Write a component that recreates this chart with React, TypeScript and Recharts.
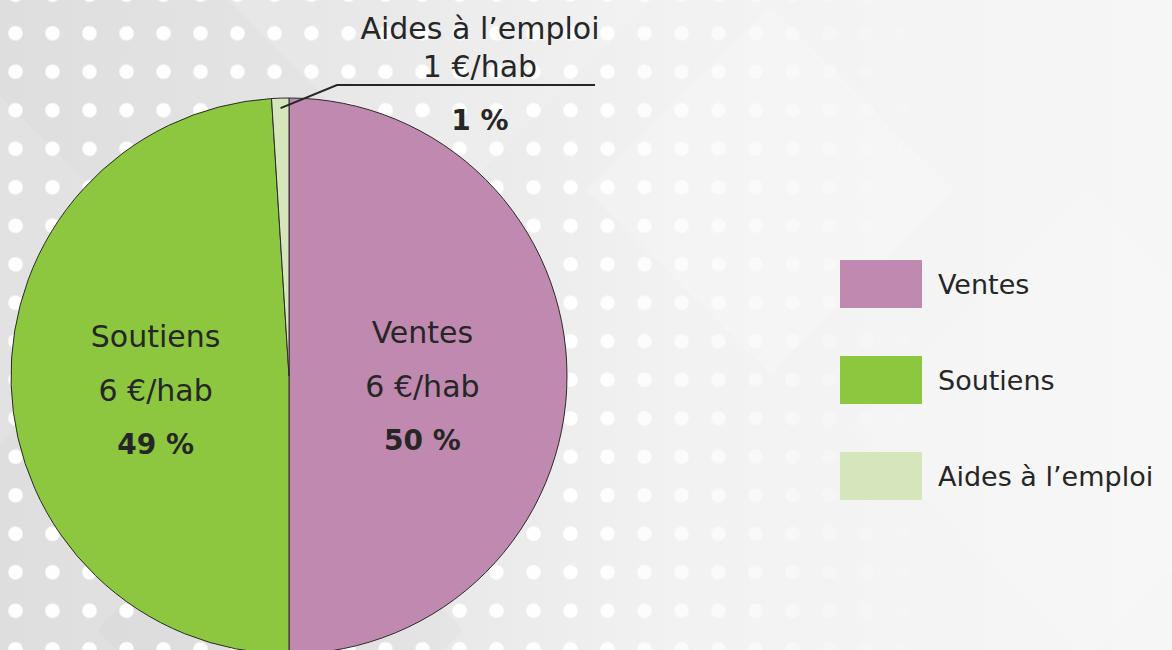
import { PieChart, Pie, Cell, Legend } from "recharts";

const categories = ["Ventes", "Soutiens", "Aides à l’emploi"];
const perInhabitant = [6, 6, 1];
const shares = [50, 49, 1];

const SLICE_COLORS = ["#BF89B0", "#8DC63F", "#D6E6BC"];
const TEXT = "#262626";
const FONT = "'DejaVu Sans', sans-serif";
const RAD = Math.PI / 180;

const data = categories.map((name, i) => ({
  name,
  perHab: perInhabitant[i],
  share: shares[i],
}));

// inside labels for the big slices, a leader + underline for the thin one
function SliceLabel(props: any) {
  const { cx, cy, midAngle, outerRadius, index } = props;
  const row = data[index];
  if (!row) return null;

  if (row.share < 5) {
    const sx = cx + (outerRadius - 10) * Math.cos(-midAngle * RAD);
    const sy = cy + (outerRadius - 10) * Math.sin(-midAngle * RAD);
    const top = cy - outerRadius;
    const ex = cx + 48;
    const ey = top - 13;
    const tx = cx + 191;
    return (
      <g fontFamily={FONT} fill={TEXT}>
        <polyline
          points={`${sx},${sy} ${ex},${ey} ${cx + 306},${ey}`}
          fill="none"
          stroke={TEXT}
          strokeWidth={2}
        />
        <text x={tx} y={top - 59} textAnchor="middle" fontSize={30}>
          {row.name}
        </text>
        <text x={tx} y={top - 21} textAnchor="middle" fontSize={30}>
          {row.perHab} €/hab
        </text>
        <text x={tx} y={top + 32} textAnchor="middle" fontSize={28} fontWeight="bold">
          {row.share} %
        </text>
      </g>
    );
  }

  const r = outerRadius * 0.48;
  const x = cx + r * Math.cos(-midAngle * RAD);
  const y = cy + r * Math.sin(-midAngle * RAD) + 10;
  return (
    <g fontFamily={FONT} fill={TEXT} textAnchor="middle">
      <text x={x} y={y - 54} dominantBaseline="central" fontSize={30}>
        {row.name}
      </text>
      <text x={x} y={y} dominantBaseline="central" fontSize={30}>
        {row.perHab} €/hab
      </text>
      <text x={x} y={y + 54} dominantBaseline="central" fontSize={28} fontWeight="bold">
        {row.share} %
      </text>
    </g>
  );
}

// legend keeps the data order (top to bottom)
function LegendBlock({ payload }: any) {
  const items = [...(payload || [])].sort(
    (a: any, b: any) => categories.indexOf(a.value) - categories.indexOf(b.value)
  );
  return (
    <div style={{ fontFamily: FONT }}>
      {items.map((entry: any) => (
        <div
          key={entry.value}
          style={{ display: "flex", alignItems: "center", height: 96 }}
        >
          <span
            style={{
              width: 82,
              height: 48,
              background: entry.color,
              marginRight: 16,
              flexShrink: 0,
            }}
          />
          <span style={{ fontSize: 27, color: TEXT, whiteSpace: "nowrap" }}>{entry.value}</span>
        </div>
      ))}
    </div>
  );
}

function Backdrop() {
  return (
    <div style={{ position: "absolute", inset: 0, overflow: "hidden" }}>
      <div
        style={{
          position: "absolute",
          inset: 0,
          background: "linear-gradient(90deg, #dedede 0%, #e5e5e5 30%, #f2f2f2 58%, #f6f6f6 100%)",
        }}
      />
      {[
        { left: -140, top: 140, size: 260, c: "rgba(255,255,255,0.12)" },
        { left: 290, top: -150, size: 300, c: "rgba(255,255,255,0.14)" },
        { left: 640, top: 60, size: 260, c: "rgba(255,255,255,0.18)" },
        { left: 920, top: 260, size: 330, c: "rgba(255,255,255,0.15)" },
        { left: 150, top: 500, size: 260, c: "rgba(0,0,0,0.015)" },
      ].map((d, i) => (
        <div
          key={i}
          style={{
            position: "absolute",
            left: d.left,
            top: d.top,
            width: d.size,
            height: d.size,
            background: d.c,
            transform: "rotate(45deg)",
          }}
        />
      ))}
      <div
        style={{
          position: "absolute",
          inset: 0,
          backgroundImage:
            "radial-gradient(circle, rgba(255,255,255,0.95) 6.5px, rgba(255,255,255,0) 8px)",
          backgroundSize: "37px 38.5px",
          backgroundPosition: "-3px 14px",
          WebkitMaskImage: "linear-gradient(90deg, #000 0%, #000 50%, rgba(0,0,0,0) 80%)",
          maskImage: "linear-gradient(90deg, #000 0%, #000 50%, rgba(0,0,0,0) 80%)",
        }}
      />
    </div>
  );
}

export default function App() {
  return (
    <div
      style={{
        position: "absolute",
        left: 0,
        top: 0,
        width: 1172,
        height: 650,
        overflow: "hidden",
      }}
    >
      <Backdrop />
      <div style={{ position: "absolute", left: 0, top: 0 }}>
        <PieChart width={1172} height={650} margin={{ top: 0, right: 0, bottom: 0, left: 0 }}>
          <Pie
            data={data}
            dataKey="share"
            nameKey="name"
            cx={289}
            cy={376}
            outerRadius={278}
            startAngle={90}
            endAngle={-270}
            stroke="#2b2b2b"
            strokeWidth={1}
            label={SliceLabel}
            labelLine={false}
            isAnimationActive={false}
          >
            {data.map((row, i) => (
              <Cell key={row.name} fill={SLICE_COLORS[i]} />
            ))}
          </Pie>
          <Legend
            layout="vertical"
            align="right"
            verticalAlign="middle"
            content={<LegendBlock />}
            wrapperStyle={{ left: 840, top: 236, width: 332, right: "auto" }}
          />
        </PieChart>
      </div>
    </div>
  );
}
